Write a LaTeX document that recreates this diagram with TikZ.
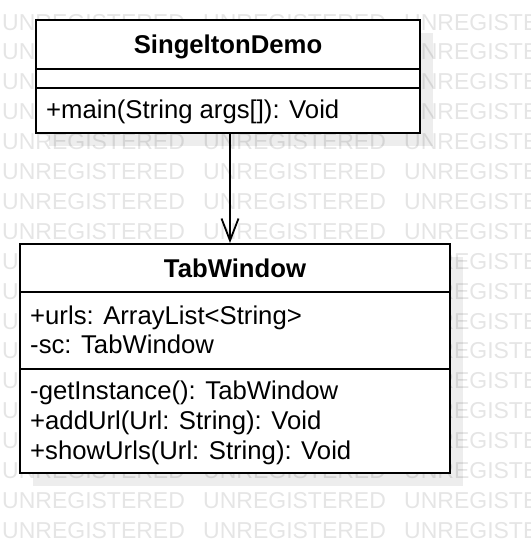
\documentclass[tikz,border=0pt]{standalone}
\usepackage{fontspec}
\setmainfont{Liberation Sans}
\usetikzlibrary{arrows.meta}
\begin{document}
\begin{tikzpicture}[x=1pt,y=-1pt,
  classbox/.style={draw=black,line width=2pt,fill=white,inner sep=0pt},
  shadowbox/.style={fill=black,fill opacity=0.07,draw=none},
  member/.style={anchor=base west,inner sep=0pt,font=\fontsize{25.7}{30}\selectfont},
  classtitle/.style={anchor=base,inner sep=0pt,font=\fontsize{25.7}{30}\selectfont\bfseries},
  wm/.style={anchor=base west,inner sep=0pt,text=black,text opacity=0.1,font=\fontsize{23}{27}\selectfont},
  divider/.style={draw=black,line width=2pt},
  assoc/.style={draw=black,line width=1.8pt,-{Straight Barb[length=22pt,width=17pt]}}]
\useasboundingbox[fill=white] (0,0) rectangle (530,554);
% shadows
\fill[shadowbox] (49,33) rectangle (433,146);
\fill[shadowbox] (33,257) rectangle (463,486);
% watermark
\foreach \r in {0,...,17}{
  \foreach \c in {0,1,2}{
    \node[wm] (wm-\r-\c) at (2+201*\c, 30+29.9*\r) {UNREGISTERED};
  }
}
% class SingeltonDemo
\node[classbox,minimum width=384pt,minimum height=113pt] (b1) at (228,76.5) {};
\draw[divider] ([yshift=-50pt]b1.north west) -- ([yshift=-50pt]b1.north east);
\draw[divider] ([yshift=-69pt]b1.north west) -- ([yshift=-69pt]b1.north east);
\node[classtitle] (t1) at (228,53) {SingeltonDemo};
\node[member] (m1) at (46,118) {+main(String args[]): Void};
% class TabWindow
\node[classbox,minimum width=430pt,minimum height=229pt] (b2) at (235,358.5) {};
\draw[divider] ([yshift=-49pt]b2.north west) -- ([yshift=-49pt]b2.north east);
\draw[divider] ([yshift=-126pt]b2.north west) -- ([yshift=-126pt]b2.north east);
\node[classtitle] (t2) at (235,277) {TabWindow};
\node[member] (a1) at (30,324) {+urls: ArrayList<String>};
\node[member] (a2) at (30,353) {-sc: TabWindow};
\node[member] (o1) at (30,399) {-getInstance(): TabWindow};
\node[member] (o2) at (30,429) {+addUrl(Url: String): Void};
\node[member] (o3) at (30,459) {+showUrls(Url: String): Void};
% association
\coordinate (ax) at (230,0);
\draw[assoc] (b1.south -| ax) -- (b2.north -| ax);
\end{tikzpicture}
\end{document}
